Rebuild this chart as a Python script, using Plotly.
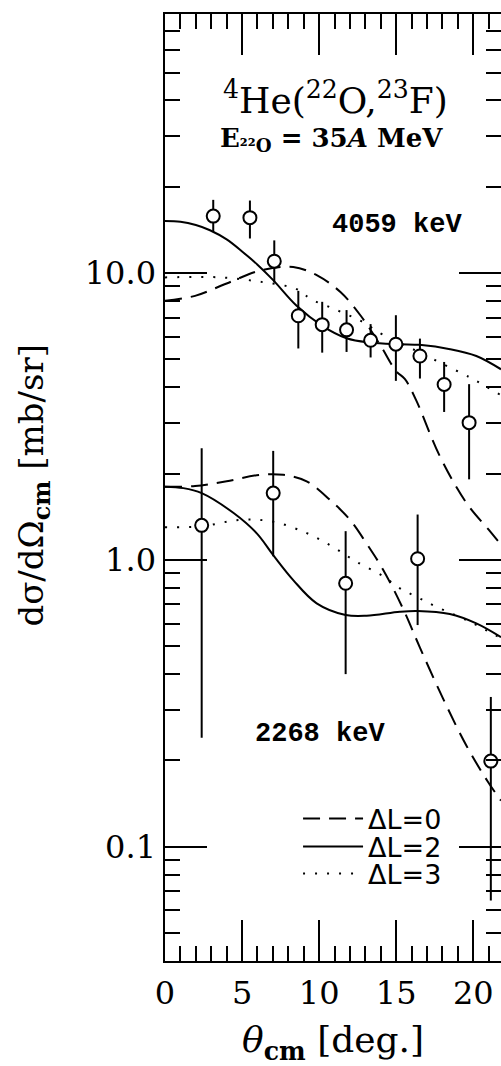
import math
import plotly.graph_objects as go

# ---------------- data ----------------
# 4059 keV state: data points (theta_cm [deg], dsigma/dOmega [mb/sr]) and error-bar bounds
theta_4059 = [3.13, 5.51, 7.09, 8.65, 10.2, 11.78, 13.34, 14.98, 16.54, 18.11, 19.73]
xs_4059 = [15.8, 15.6, 11.0, 7.1, 6.61, 6.34, 5.83, 5.65, 5.14, 4.09, 3.01]
hi_4059 = [18.0, 17.9, 13.0, 8.67, 7.94, 7.43, 6.64, 7.13, 5.91, 4.90, 4.10]
lo_4059 = [13.9, 13.2, 9.27, 5.46, 5.28, 5.31, 5.08, 4.21, 4.29, 3.28, 1.91]

# 2268 keV state
theta_2268 = [2.38, 7.02, 11.72, 16.39, 21.14]
xs_2268 = [1.32, 1.71, 0.829, 1.01, 0.199]
hi_2268 = [2.45, 2.40, 1.26, 1.44, 0.333]
lo_2268 = [0.240, 1.03, 0.40, 0.593, 0.065]

# calculated curves, 4059 keV
th_l0_4059 = [0, 1.95, 4.0, 6.16, 8.32, 9.9, 11.4, 12.7, 14.0, 15.0, 15.57, 16.3, 17.83, 19.56, 21.08, 21.8]
l0_4059 = [8.0, 8.33, 9.2, 10.2, 10.5, 9.8, 8.57, 7.1, 5.57, 4.55, 4.27, 3.6, 2.30, 1.58, 1.26, 1.13]
th_l2_4059 = [0, 1.0, 2.0, 2.92, 4.0, 5.08, 6.0, 7.02, 8.54, 10.2, 11.78, 13.3, 15.24, 16.5, 18.5, 20.2, 21.8]
l2_4059 = [15.2, 15.1, 14.7, 14.1, 13.1, 11.8, 10.7, 9.45, 7.69, 6.55, 5.93, 5.73, 5.65, 5.62, 5.43, 5.14, 4.62]
th_l3_4059 = [0, 3.57, 6.16, 8.54, 9.5, 11.1, 12.7, 14.1, 16.3, 17.83, 19.7, 20.2, 21.8]
l3_4059 = [9.66, 9.66, 9.33, 8.79, 8.1, 7.45, 6.81, 6.12, 5.36, 4.88, 4.35, 4.21, 3.75]

# calculated curves, 2268 keV
th_l0_2268 = [0, 1.95, 4.0, 6.16, 7.67, 9.19, 10.7, 12.0, 13.08, 14.16, 15.45, 16.54, 18.05, 19.56, 20.97, 21.8]
l0_2268 = [1.80, 1.81, 1.88, 1.98, 1.98, 1.88, 1.62, 1.38, 1.14, 0.923, 0.675, 0.495, 0.328, 0.225, 0.168, 0.145]
th_l2_2268 = [0, 1.19, 2.38, 4.43, 5.94, 7.02, 8.32, 9.84, 11.72, 13.08, 15.24, 16.39, 18.48, 20.2, 21.8]
l2_2268 = [1.80, 1.78, 1.71, 1.46, 1.24, 1.04, 0.851, 0.706, 0.643, 0.639, 0.660, 0.664, 0.648, 0.601, 0.538]
th_l3_2268 = [0, 2.38, 4.87, 7.0, 9.2, 10.9, 12.4, 14.2, 15.24, 16.3, 17.6, 19.78, 21.8]
l3_2268 = [1.30, 1.31, 1.38, 1.36, 1.24, 1.11, 0.987, 0.875, 0.796, 0.745, 0.687, 0.609, 0.533]

x_major = [0, 5, 10, 15, 20]
x_labels = ["0", "5", "10", "15", "20"]
x_minor = list(range(0, 22))
y_major = [0.1, 1.0, 10.0]
y_labels = ["0.1", "1.0", "10.0"]
y_minor = [0.05, 0.06, 0.07, 0.08, 0.09, 0.2, 0.3, 0.4, 0.5, 0.6, 0.7, 0.8, 0.9,
           2, 3, 4, 5, 6, 7, 8, 9, 20, 30, 40, 50, 60, 70]

legend_labels = ["\u0394L=0", "\u0394L=2", "\u0394L=3"]

# ---------------- figure ----------------
LW = 2
DASH = "17px,9px"
DOT = "2px,10px"
fig = go.Figure()

curves = [
    (th_l0_4059, l0_4059, DASH, legend_labels[0], "legend", True),
    (th_l2_4059, l2_4059, "solid", legend_labels[1], "legend2", True),
    (th_l3_4059, l3_4059, DOT, legend_labels[2], "legend3", True),
    (th_l0_2268, l0_2268, DASH, legend_labels[0], "legend", False),
    (th_l2_2268, l2_2268, "solid", legend_labels[1], "legend2", False),
    (th_l3_2268, l3_2268, DOT, legend_labels[2], "legend3", False),
]
for th, v, dash, name, lg, show in curves:
    fig.add_trace(go.Scatter(
        x=th, y=v, mode="lines", name=name, legend=lg, showlegend=show,
        line=dict(color="black", width=LW, dash=dash, shape="spline", smoothing=1.0),
        hoverinfo="skip"))

for th, v, hi, lo in [(theta_4059, xs_4059, hi_4059, lo_4059),
                      (theta_2268, xs_2268, hi_2268, lo_2268)]:
    fig.add_trace(go.Scatter(
        x=th, y=v, mode="markers", showlegend=False,
        marker=dict(symbol="circle", size=13, color="white",
                    line=dict(color="black", width=2)),
        error_y=dict(type="data", symmetric=False,
                     array=[h - y for h, y in zip(hi, v)],
                     arrayminus=[y - l for y, l in zip(v, lo)],
                     width=0, thickness=2, color="black")))

# invisible trace carrying the left frame-line axis
fig.add_trace(go.Scatter(x=[None], y=[None], yaxis="y2", showlegend=False, hoverinfo="skip"))

tickfont = dict(family="DejaVu Serif", size=32, color="black")
ylo, yhi = 0.04, 80
yrange = [math.log10(ylo), math.log10(yhi)]

fig.update_layout(
    width=501, height=1066,
    margin=dict(l=165, r=0, t=14, b=105),
    paper_bgcolor="white", plot_bgcolor="white",
    xaxis=dict(range=[0, 21.8], showgrid=False, zeroline=False,
               showline=True, linewidth=2, linecolor="black", mirror="ticks",
               ticks="inside", ticklen=41, tickwidth=2, tickcolor="black",
               tickmode="array", tickvals=x_major, ticktext=x_labels,
               tickfont=tickfont, ticklabelstandoff=3, automargin=False,
               minor=dict(tickmode="array", tickvals=x_minor, ticks="inside",
                          ticklen=15, tickwidth=2, tickcolor="black", showgrid=False)),
    # main y axis: ticks on both sides, no frame lines
    yaxis=dict(type="log", range=yrange,
               showgrid=False, zeroline=False,
               showline=False, mirror="ticks",
               ticks="inside", ticklen=42, tickwidth=2, tickcolor="black",
               tickmode="array", tickvals=y_major, ticktext=y_labels,
               tickfont=tickfont, ticklabelstandoff=8, automargin=False,
               minor=dict(tickmode="array", tickvals=y_minor, ticks="inside",
                          ticklen=15, tickwidth=2, tickcolor="black", showgrid=False)),
    # overlay axis providing only the left frame line
    yaxis2=dict(type="log", overlaying="y", side="left", range=yrange,
                showgrid=False, zeroline=False, showline=True,
                linecolor="black", linewidth=2, mirror=False,
                ticks="", showticklabels=False, automargin=False),
    showlegend=True,
)

legfont = dict(family="DejaVu Sans", size=27, color="black")
for key, yc in [("legend", 0.150), ("legend2", 0.1204), ("legend3", 0.0919)]:
    fig.update_layout(**{key: dict(x=0.396, y=yc, xanchor="left", yanchor="middle",
                                   font=legfont, bgcolor="rgba(0,0,0,0)",
                                   borderwidth=0, itemwidth=60)})

ann = [
    dict(text="<sup>4</sup>He(<sup>22</sup>O,<sup>23</sup>F)", x=0.506, y=0.911,
         font=dict(family="DejaVu Serif", size=36, color="black")),
    dict(text="<b>E<sub>\u00b2\u00b2O</sub> = 35<i>A</i> MeV</b>", x=0.497, y=0.868,
         font=dict(family="DejaVu Serif", size=26, color="black")),
    dict(text="<b>4059 keV</b>", x=0.690, y=0.777,
         font=dict(family="Liberation Mono", size=27, color="black")),
    dict(text="<b>2268 keV</b>", x=0.461, y=0.240,
         font=dict(family="Liberation Mono", size=27, color="black")),
]
for a in ann:
    fig.add_annotation(xref="paper", yref="paper", xanchor="center", yanchor="middle",
                       showarrow=False, **a)

# axis titles
fig.add_annotation(text="<i>\u03b8</i><sub><b>cm</b></sub> [deg.]", xref="paper", yref="paper",
                   x=0.5, y=-0.086, xanchor="center", yanchor="middle", showarrow=False,
                   font=dict(family="DejaVu Serif", size=36, color="black"))
fig.add_annotation(text="d\u03c3/d\u03a9<sub><b>cm</b></sub> [mb/sr]", xref="paper", yref="paper",
                   x=-0.39, y=0.503, xanchor="center", yanchor="middle", showarrow=False,
                   textangle=-90,
                   font=dict(family="DejaVu Serif", size=34, color="black"))

fig.write_html("out.html", config={"displayModeBar": False},
               post_script=("document.body.style.margin='0px';"
                            "document.body.style.overflow='hidden';"
                            "document.documentElement.style.overflow='hidden';"))
